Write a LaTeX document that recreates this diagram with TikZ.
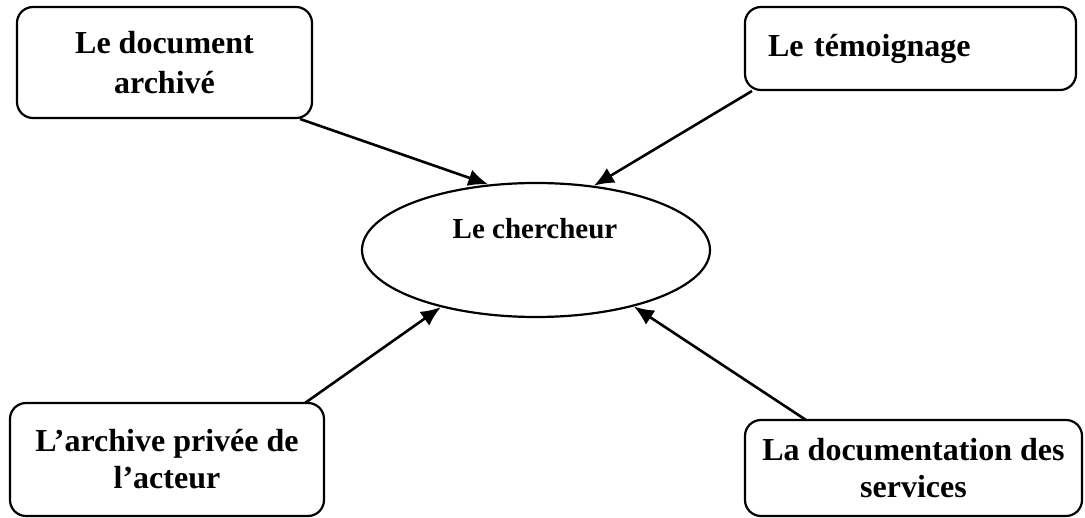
\documentclass[tikz,border=0pt]{standalone}
\usepackage{fontspec}
\setmainfont{Liberation Serif}
\usetikzlibrary{arrows.meta,shapes.geometric}
\begin{document}
\begin{tikzpicture}[x=1pt,y=-1pt,
  box/.style={draw,line width=2.2pt,rounded corners=16pt,inner sep=0pt,
    font=\fontsize{32}{37}\selectfont\bfseries,align=center},
  conn/.style={line width=2.6pt,-{Latex[length=20pt,width=17pt]}}]
\useasboundingbox (0,0) rectangle (1085,518);
\node[box,minimum width=295pt,minimum height=111pt] (b1) at (164.5,62.5) {Le document\\[3pt]archivé};
\node[box,minimum width=331pt,minimum height=83pt,align=left,text width=285pt] (b2) at (910.5,48.5) {Le témoignage\\[16pt]};
\node[box,minimum width=314pt,minimum height=113pt] (b3) at (167,459.5) {L’archive privée de\\l’acteur};
\node[box,minimum width=337pt,minimum height=96pt] (b4) at (913.5,468) {La documentation des\\services};
\node[draw,ellipse,line width=2.2pt,minimum width=348pt,minimum height=134pt] (ell) at (536,250) {};
\node[font=\fontsize{29}{34}\selectfont\bfseries] (lbl) at (535,229) {Le chercheur};
\coordinate (s1) at (300,119);
\coordinate (s2) at (752,91);
\coordinate (s3) at (305,403);
\coordinate (s4) at (806,420);
\draw[conn] (s1) -- (ell.126);
\draw[conn] (s2) -- (ell.48);
\draw[conn] (s3) -- (ell.211);
\draw[conn] (s4) -- (ell.330);
\end{tikzpicture}
\end{document}
